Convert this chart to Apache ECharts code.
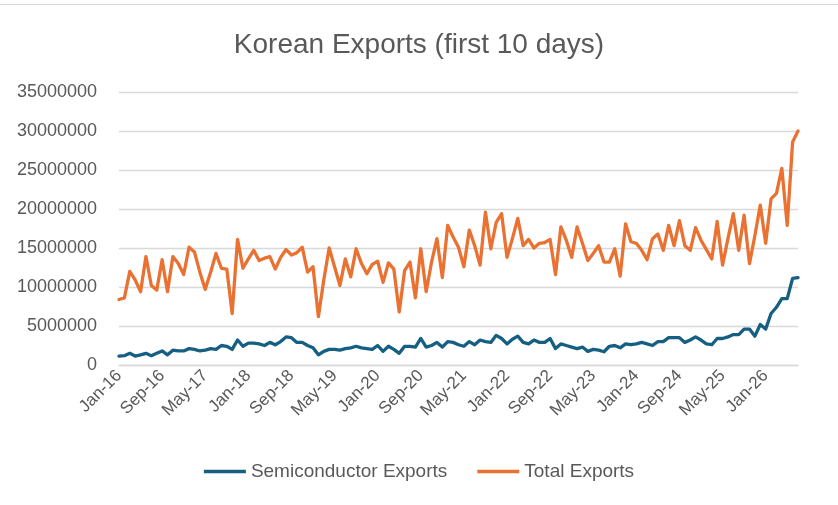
<!DOCTYPE html>
<html lang="en">
<head>
<meta charset="UTF-8">
<title>Korean Exports (first 10 days)</title>
<script src="https://cdn.jsdelivr.net/npm/echarts@6/dist/echarts.min.js"></script>
<style>
  html, body { margin: 0; padding: 0; background: #fff; }
  #main { width: 838px; height: 505px; }
</style>
</head>
<body>
<div id="main"></div>
<script type="text/javascript">
    // months Jan-16 .. Jul-26
    const monthNames = ['Jan', 'Feb', 'Mar', 'Apr', 'May', 'Jun', 'Jul', 'Aug', 'Sep', 'Oct', 'Nov', 'Dec'];
    const firstYear = 16;
    const monthCount = 127;
    const months = [];
    for (let i = 0; i < monthCount; i++) {
        months.push(monthNames[i % 12] + '-' + (firstYear + Math.floor(i / 12)));
    }

    // semiconductor exports, first 10 days of each month
    const semiconductorExports = [
        1.15e6, 1.2e6, 1.5e6, 1.15e6, 1.3e6, 1.5e6, 1.2e6, 1.5e6, 1.8e6, 1.3e6, 1.9e6, 1.8e6, 1.8e6, 2.1e6, 2.0e6, 1.8e6, 1.9e6, 2.1e6, 2.0e6, 2.5e6, 2.4e6,
        2.0e6, 3.2e6, 2.4e6, 2.8e6, 2.8e6, 2.7e6, 2.5e6, 2.9e6, 2.6e6, 3.0e6, 3.6e6, 3.5e6, 2.9e6, 2.9e6, 2.5e6, 2.2e6, 1.3e6, 1.75e6, 2.0e6, 2.0e6, 1.9e6,
        2.1e6, 2.2e6, 2.4e6, 2.2e6, 2.1e6, 2.0e6, 2.5e6, 1.75e6, 2.4e6, 2.0e6, 1.5e6, 2.4e6, 2.4e6, 2.3e6, 3.4e6, 2.3e6, 2.5e6, 2.9e6, 2.3e6, 3.0e6, 2.9e6,
        2.6e6, 2.4e6, 3.0e6, 2.6e6, 3.2e6, 3.0e6, 2.9e6, 3.8e6, 3.4e6, 2.7e6, 3.3e6, 3.7e6, 2.9e6, 2.7e6, 3.2e6, 2.9e6, 2.9e6, 3.4e6, 2.1e6, 2.7e6, 2.5e6,
        2.3e6, 2.1e6, 2.3e6, 1.75e6, 2.0e6, 1.9e6, 1.7e6, 2.4e6, 2.5e6, 2.2e6, 2.7e6, 2.6e6, 2.7e6, 2.9e6, 2.7e6, 2.5e6, 3.0e6, 3.0e6, 3.5e6, 3.5e6, 3.5e6,
        2.9e6, 3.2e6, 3.6e6, 3.2e6, 2.7e6, 2.6e6, 3.4e6, 3.4e6, 3.6e6, 3.9e6, 3.9e6, 4.6e6, 4.6e6, 3.7e6, 5.2e6, 4.6e6, 6.6e6, 7.4e6, 8.5e6, 8.5e6, 11.1e6, 11.2e6
    ];

    // total exports, first 10 days of each month
    const totalExports = [
        8.4e6, 8.6e6, 12.0e6, 10.9e6, 9.4e6, 13.9e6, 10.2e6, 9.6e6, 13.5e6, 9.4e6, 13.9e6, 13.0e6, 11.6e6, 15.1e6, 14.5e6, 11.9e6, 9.7e6, 11.9e6, 14.3e6, 12.4e6, 12.3e6,
        6.6e6, 16.1e6, 12.4e6, 13.6e6, 14.7e6, 13.4e6, 13.7e6, 13.9e6, 12.3e6, 13.8e6, 14.8e6, 14.1e6, 14.4e6, 15.1e6, 11.9e6, 12.6e6, 6.2e6, 10.9e6, 15.0e6, 12.6e6, 10.2e6,
        13.6e6, 11.3e6, 14.9e6, 13.0e6, 11.7e6, 12.9e6, 13.3e6, 10.6e6, 13.1e6, 12.3e6, 6.8e6, 12.1e6, 13.2e6, 8.6e6, 14.9e6, 9.4e6, 13.2e6, 16.2e6, 11.2e6, 17.9e6, 16.4e6,
        15.1e6, 12.6e6, 17.3e6, 15.3e6, 12.8e6, 19.6e6, 14.9e6, 18.3e6, 19.4e6, 13.8e6, 16.2e6, 18.8e6, 15.3e6, 16.1e6, 15.0e6, 15.6e6, 15.7e6, 16.1e6, 11.6e6, 17.7e6, 16.0e6,
        13.8e6, 17.7e6, 15.6e6, 13.4e6, 14.3e6, 15.3e6, 13.2e6, 13.2e6, 14.9e6, 11.4e6, 18.1e6, 15.8e6, 15.6e6, 14.7e6, 13.5e6, 16.2e6, 16.8e6, 14.7e6, 17.9e6, 15.3e6, 18.5e6,
        15.3e6, 14.7e6, 17.6e6, 16.0e6, 14.8e6, 13.6e6, 18.4e6, 12.8e6, 16.2e6, 19.4e6, 14.7e6, 19.2e6, 13.0e6, 16.6e6, 20.5e6, 15.6e6, 21.3e6, 22.0e6, 25.2e6, 17.9e6, 28.6e6, 30.0e6
    ];

    const seriesNames = ['Semiconductor Exports', 'Total Exports'];
    const seriesColors = ['#156082', '#E97132'];

    const textColor = '#595959';
    const fontFamily = 'Liberation Sans, Arial, sans-serif';

    var myChart = echarts.init(document.getElementById('main'));
    var option = {
        backgroundColor: '#ffffff',
        animation: false,
        textStyle: { fontFamily: fontFamily },
        title: {
            text: 'Korean Exports (first 10 days)',
            left: 'center',
            top: 26,
            textStyle: { color: textColor, fontSize: 28, fontWeight: 'normal', fontFamily: fontFamily }
        },
        grid: { left: 119, right: 40, top: 92, bottom: 140 },
        legend: {
            bottom: 19,
            left: 'center',
            icon: 'rect',
            itemWidth: 42,
            itemHeight: 3.5,
            itemGap: 30,
            textStyle: { color: textColor, fontSize: 19, fontFamily: fontFamily },
            data: seriesNames
        },
        xAxis: {
            type: 'category',
            data: months,
            boundaryGap: false,
            axisTick: { show: false },
            axisLine: { lineStyle: { color: '#d9d9d9', width: 1.3 } },
            axisLabel: {
                interval: 7,
                rotate: 45,
                color: textColor,
                fontSize: 17,
                margin: 8,
                fontFamily: fontFamily
            }
        },
        yAxis: {
            type: 'value',
            min: 0,
            max: 35000000,
            interval: 5000000,
            axisLine: { show: false },
            axisTick: { show: false },
            splitLine: { lineStyle: { color: '#d9d9d9', width: 1.3 } },
            axisLabel: {
                color: textColor,
                fontSize: 18,
                margin: 22,
                fontFamily: fontFamily,
                formatter: function (v) { return String(v); }
            }
        },
        series: [
            {
                name: seriesNames[0],
                type: 'line',
                data: semiconductorExports,
                symbol: 'none',
                color: seriesColors[0],
                lineStyle: { width: 3.3, color: seriesColors[0], join: 'round', cap: 'round' }
            },
            {
                name: seriesNames[1],
                type: 'line',
                data: totalExports,
                symbol: 'none',
                color: seriesColors[1],
                lineStyle: { width: 3.3, color: seriesColors[1], join: 'round', cap: 'round' }
            }
        ],
        graphic: [
            {
                type: 'line',
                shape: { x1: 0, y1: 4.5, x2: 838, y2: 4.5 },
                style: { stroke: '#d9d9d9', lineWidth: 1 }
            }
        ]
    };
    myChart.setOption(option);
</script>
</body>
</html>
